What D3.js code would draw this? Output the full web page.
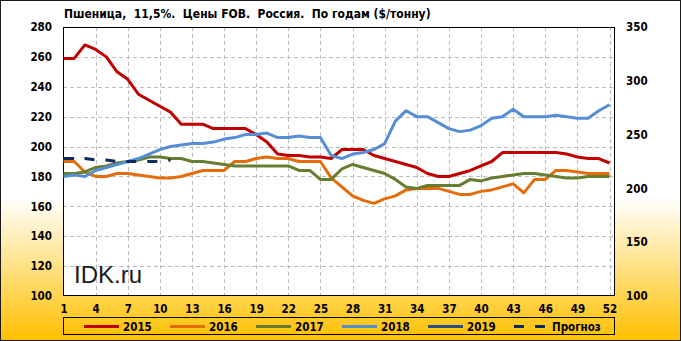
<!DOCTYPE html>
<html>
<head>
<meta charset="utf-8">
<script src="https://cdn.jsdelivr.net/npm/d3@7"></script>
<style>
  html, body { margin: 0; padding: 0; background: #fff; }
  svg text { font-family: "DejaVu Sans Condensed", "DejaVu Sans", sans-serif; font-stretch: condensed; }
</style>
</head>
<body>
<div id="chart"></div>
<script>
//weeks of the year
const weeks = d3.range(1, 53);
const xTicks = [1, 4, 7, 10, 13, 16, 19, 22, 25, 28, 31, 34, 37, 40, 43, 46, 49, 52];
const yTicks = [100, 120, 140, 160, 180, 200, 220, 240, 260, 280];
const y2Ticks = [100, 150, 200, 250, 300, 350];

//price series ($/t)
const s2015 = [259, 259, 268, 265, 260, 250, 245, 235, 231, 227, 223, 215, 215, 215, 212, 212, 212, 212, 208, 203,
  195, 194, 194, 193, 193, 192, 198, 198, 198, 194, 192, 190, 188, 186, 182, 180, 180, 182, 184, 187,
  190, 196, 196, 196, 196, 196, 196, 195, 193, 192, 192, 189];
const s2016 = [190, 190, 183, 180, 180, 182, 182, 181, 180, 179, 179, 180, 182, 184, 184, 184, 190, 190, 192, 193,
  192, 192, 190, 190, 190, 179, 173, 167, 164, 162, 165, 167, 171, 172, 172, 172, 170, 168, 168, 170,
  171, 173, 175, 169, 178, 178, 184, 184, 183, 182, 182, 182];
const s2017 = [182, 182, 183, 186, 187, 189, 190, 191, 193, 193, 192, 192, 190, 190, 189, 188, 187, 187, 187, 187,
  187, 187, 184, 184, 178, 178, 185, 188, 186, 184, 182, 178, 173, 172, 174, 174, 174, 174, 178, 177,
  179, 180, 181, 182, 182, 181, 180, 179, 179, 180, 180, 180];
const s2018 = [180, 181, 180, 184, 186, 188, 190, 192, 195, 198, 200, 201, 202, 202, 203, 205, 206, 208, 208, 209,
  206, 206, 207, 206, 206, 194, 192, 195, 196, 198, 202, 217, 224, 220, 220, 216, 212, 210, 211, 214,
  219, 220, 225, 220, 220, 220, 221, 220, 219, 219, 224, 228];
const s2019 = [192, 192];
const sForecast = [192, 192, 192, 191, 191, 190, 190, 190, 190, 190, 191];

const seriesNames = ["2015", "2016", "2017", "2018", "2019", "Прогноз"];
const seriesColors = ["#C00000", "#E46C0A", "#677E30", "#558ED5", "#2A4D86", "#0F2A5C"];
const seriesData = [s2015, s2016, s2017, s2018, s2019, sForecast];

const W = 681, H = 341;
const plot = { left: 63, top: 27, right: 615, bottom: 296 };

const svg = d3.select("#chart").append("svg")
  .attr("width", W)
  .attr("height", H);

//background gradient, white fading into yellow at the bottom
const grad = svg.append("defs").append("linearGradient")
  .attr("id", "bg")
  .attr("x1", 0).attr("y1", 0).attr("x2", 0).attr("y2", 1);
grad.append("stop").attr("offset", "0%").attr("stop-color", "#ffffff");
grad.append("stop").attr("offset", "58%").attr("stop-color", "#ffffff");
grad.append("stop").attr("offset", "100%").attr("stop-color", "#FFC000");

svg.append("rect")
  .attr("x", 0.5).attr("y", 0.5)
  .attr("width", W - 1).attr("height", H - 1)
  .attr("fill", "url(#bg)")
  .attr("stroke", "#1a1a1a");

//plot area
svg.append("rect")
  .attr("x", plot.left).attr("y", plot.top)
  .attr("width", plot.right - plot.left).attr("height", plot.bottom - plot.top)
  .attr("fill", "#ffffff");

const x = d3.scaleLinear().domain([1, 52]).range([63.5, 609.5]);
const y = d3.scaleLinear().domain([100, 280]).range([plot.bottom, plot.top]);
const y2 = d3.scaleLinear().domain([100, 350]).range([plot.bottom, plot.top]);

//gridlines
const grid = svg.append("g").attr("stroke", "#BDBDBD").attr("stroke-dasharray", "4,3");
grid.selectAll("line.h")
  .data(yTicks.filter(d => d > 100 && d < 280))
  .join("line")
  .attr("x1", plot.left).attr("x2", plot.right)
  .attr("y1", d => Math.round(y(d)) + 0.5)
  .attr("y2", d => Math.round(y(d)) + 0.5);
grid.selectAll("line.v")
  .data(xTicks.slice(1))
  .join("line")
  .attr("y1", plot.top).attr("y2", plot.bottom)
  .attr("x1", d => Math.round(x(d)) + 0.5)
  .attr("x2", d => Math.round(x(d)) + 0.5);

//plot border
svg.append("rect")
  .attr("x", plot.left + 0.5).attr("y", plot.top + 0.5)
  .attr("width", plot.right - plot.left - 1).attr("height", plot.bottom - plot.top - 1)
  .attr("fill", "none")
  .attr("stroke", "#000");

//watermark
svg.append("text")
  .attr("x", 74).attr("y", 283)
  .style("font-family", "'Liberation Sans', Arial, sans-serif")
  .style("font-stretch", "normal")
  .attr("font-size", 24)
  .attr("fill", "#1a1a1a")
  .text("IDK.ru");

//lines
const line = d3.line()
  .x((d, i) => x(weeks[i]))
  .y(d => y(d));

seriesData.forEach((data, i) => {
  svg.append("path")
    .datum(data)
    .attr("fill", "none")
    .attr("stroke", seriesColors[i])
    .attr("stroke-width", 3)
    .attr("stroke-linejoin", "round")
    .attr("stroke-dasharray", seriesNames[i] === "Прогноз" ? "10,11" : null)
    .attr("d", line);
});

//axes
const axisStyle = g => {
  g.select(".domain").remove();
  g.selectAll("text")
    .attr("font-size", 11.5)
    .attr("font-weight", "bold")
    .attr("fill", "#000")
    .style("font-family", "'DejaVu Sans Condensed', 'DejaVu Sans', sans-serif");
};

svg.append("g")
  .attr("transform", `translate(${plot.left},0)`)
  .call(d3.axisLeft(y).tickValues(yTicks).tickSize(0).tickPadding(11))
  .call(axisStyle);

svg.append("g")
  .attr("transform", `translate(${plot.right},0)`)
  .call(d3.axisRight(y2).tickValues(y2Ticks).tickSize(0).tickPadding(11))
  .call(axisStyle);

svg.append("g")
  .attr("transform", `translate(0,${plot.bottom})`)
  .call(d3.axisBottom(x).tickValues(xTicks).tickSize(0).tickPadding(9))
  .call(axisStyle);

//title
svg.append("text")
  .attr("x", 64).attr("y", 18)
  .attr("font-size", 12)
  .attr("font-weight", "bold")
  .style("white-space", "pre")
  .text("Пшеница,  11,5%.  Цены FOB.  Россия.  По годам ($/тонну)");

//legend
svg.append("rect")
  .attr("x", 63.5).attr("y", 317.5)
  .attr("width", 551).attr("height", 17)
  .attr("fill", "none")
  .attr("stroke", "#000");

const legendX = [84, 170, 256, 342, 428, 514];
const legend = svg.append("g");
seriesNames.forEach((name, i) => {
  const isDash = name === "Прогноз";
  legend.append("line")
    .attr("x1", legendX[i]).attr("x2", legendX[i] + (isDash ? 31 : 35))
    .attr("y1", 326.5).attr("y2", 326.5)
    .attr("stroke", seriesColors[i])
    .attr("stroke-width", 3)
    .attr("stroke-dasharray", isDash ? "10,11" : null);
  legend.append("text")
    .attr("x", legendX[i] + (isDash ? 38 : 39))
    .attr("y", 326.5)
    .attr("dy", "0.35em")
    .attr("font-size", 11.5)
    .attr("font-weight", "bold")
    .text(name);
});
</script>
</body>
</html>
